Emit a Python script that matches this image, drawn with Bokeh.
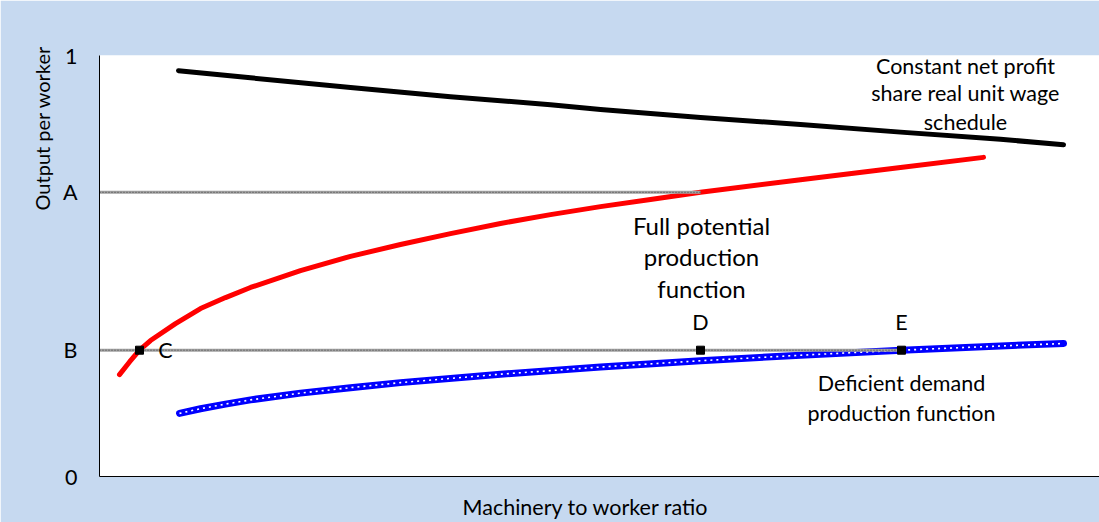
from bokeh.plotting import figure
from bokeh.models import Range1d, FixedTicker, Label, ColumnDataSource, LinearAxis, Title
from bokeh.embed import file_html
from bokeh.resources import INLINE

# ---------------- data ----------------
# Constant net profit share real unit wage schedule
wage_x = [0.079, 0.151, 0.251, 0.351, 0.451, 0.501, 0.601, 0.701, 0.801, 0.901, 0.964]
wage_y = [0.964, 0.947, 0.924, 0.902, 0.883, 0.872, 0.853, 0.836, 0.818, 0.801, 0.788]

# Full potential production function
full_x = [0.020, 0.030, 0.040, 0.051, 0.076, 0.101, 0.126, 0.151, 0.201, 0.251,
          0.301, 0.351, 0.401, 0.451, 0.501, 0.551, 0.601, 0.701, 0.801, 0.884]
full_y = [0.242, 0.272, 0.300, 0.323, 0.363, 0.399, 0.425, 0.449, 0.489, 0.523,
          0.551, 0.577, 0.601, 0.622, 0.641, 0.658, 0.675, 0.705, 0.734, 0.758]

# Deficient demand production function
def_x = [0.080, 0.101, 0.126, 0.151, 0.201, 0.251, 0.301, 0.401, 0.501, 0.601,
         0.701, 0.802, 0.901, 0.964]
def_y = [0.150, 0.161, 0.172, 0.182, 0.198, 0.211, 0.223, 0.243, 0.260, 0.275,
         0.288, 0.300, 0.310, 0.316]

# reference levels A and B, and where their guide lines end
level_names = ["A", "B"]
level_values = [0.675, 0.300]
level_ends = [0.601, 0.802]

# marked points
point_names = ["C", "D", "E"]
point_x = [0.040, 0.601, 0.802]
point_y = [0.300, 0.300, 0.300]

# y axis ticks
y_ticks = [0, 0.300, 0.675, 1]
y_tick_labels = ["0", "B", "A", "1"]

BG = "#C6D9F0"
FONT = "Lato"
NBSP = "\u00a0"

p = figure(width=1099, height=522, x_range=Range1d(0, 1), y_range=Range1d(0, 1),
           output_backend="svg", toolbar_location=None,
           min_border_left=99, min_border_right=0, min_border_top=55, min_border_bottom=46,
           border_fill_color=BG, background_fill_color="white", outline_line_color=None)
p.grid.visible = False

# axes
p.yaxis.ticker = FixedTicker(ticks=y_ticks)
p.yaxis.major_label_overrides = {t: l for t, l in zip(y_ticks, y_tick_labels)}
p.yaxis.major_tick_line_color = None
p.yaxis.minor_tick_line_color = None
p.yaxis.major_tick_out = 0
p.yaxis.major_tick_in = 0
p.yaxis.major_label_standoff = 22
p.yaxis.major_label_text_font = FONT
p.yaxis.major_label_text_font_size = "21.5px"
p.yaxis.major_label_text_color = "black"
p.yaxis.axis_line_color = "black"

p.xaxis.ticker = FixedTicker(ticks=[])
p.xaxis.major_tick_line_color = None
p.xaxis.minor_tick_line_color = None
p.xaxis.major_tick_out = 0
p.xaxis.major_tick_in = 0
p.xaxis.major_label_text_font_size = "0px"
p.xaxis.axis_line_color = "black"

# x axis title, carried by an extra line-less axis
p.add_layout(LinearAxis(axis_label="Machinery to worker ratio" + NBSP * 5,
                        ticker=FixedTicker(ticks=[]),
                        axis_line_color=None, major_tick_line_color=None,
                        minor_tick_line_color=None, major_tick_out=0, major_tick_in=0,
                        major_label_text_font_size="0px",
                        axis_label_standoff=17, axis_label_text_font=FONT,
                        axis_label_text_font_size="21.5px",
                        axis_label_text_font_style="normal",
                        axis_label_text_color="black"), "below")

# y axis title, set high up beside the axis as in the reference
p.add_layout(Title(text="Output per worker", align="left", offset=266,
                   text_font=FONT, text_font_size="20px", text_font_style="normal",
                   text_color="black", standoff=11), "left")

# curves
p.line(wage_x, wage_y, line_color="black", line_width=5, line_cap="round", line_join="round")
p.line(full_x, full_y, line_color="#FF0000", line_width=5, line_cap="round", line_join="round")
p.line(def_x, def_y, line_color="#0000FF", line_width=7, line_cap="round", line_join="round")
p.line(def_x, def_y, line_color="white", line_width=1.6, line_dash="2 4")

# guide lines at A and B
guides = ColumnDataSource(dict(x0=[0] * len(level_values), x1=level_ends,
                               y=level_values))
p.segment(x0="x0", y0="y", x1="x1", y1="y", source=guides,
          line_color="#a0a0a0", line_width=3)
p.segment(x0="x0", y0="y", x1="x1", y1="y", source=guides,
          line_color="#404040", line_width=1, line_dash="1 2")

# marked points
p.scatter(point_x, point_y, marker="square", size=8, color="black")

# point labels
offsets = {"C": (26, 0), "D": (0, 28), "E": (0, 28)}
for name, px, py in zip(point_names, point_x, point_y):
    dx, dy = offsets[name]
    p.add_layout(Label(x=px, y=py, x_offset=dx, y_offset=dy, text=name,
                       text_font=FONT, text_font_size="21.5px", text_color="black",
                       text_align="center", text_baseline="middle"))

def add_block(lines, x, y_list, size):
    for t, y in zip(lines, y_list):
        p.add_layout(Label(x=x, y=y, text=t, text_font=FONT, text_font_size=size,
                           text_color="black", text_align="center",
                           text_baseline="middle"))

add_block(["Constant net profit", "share real unit wage", "schedule"],
          0.866, [0.974, 0.910, 0.841], "21.5px")
add_block(["Full potential", "production", "function"],
          0.602, [0.596, 0.522, 0.446], "24px")
add_block(["Deficient demand", "production function"],
          0.802, [0.221, 0.152], "21.5px")

open("out.html", "w").write(file_html(p, INLINE))
